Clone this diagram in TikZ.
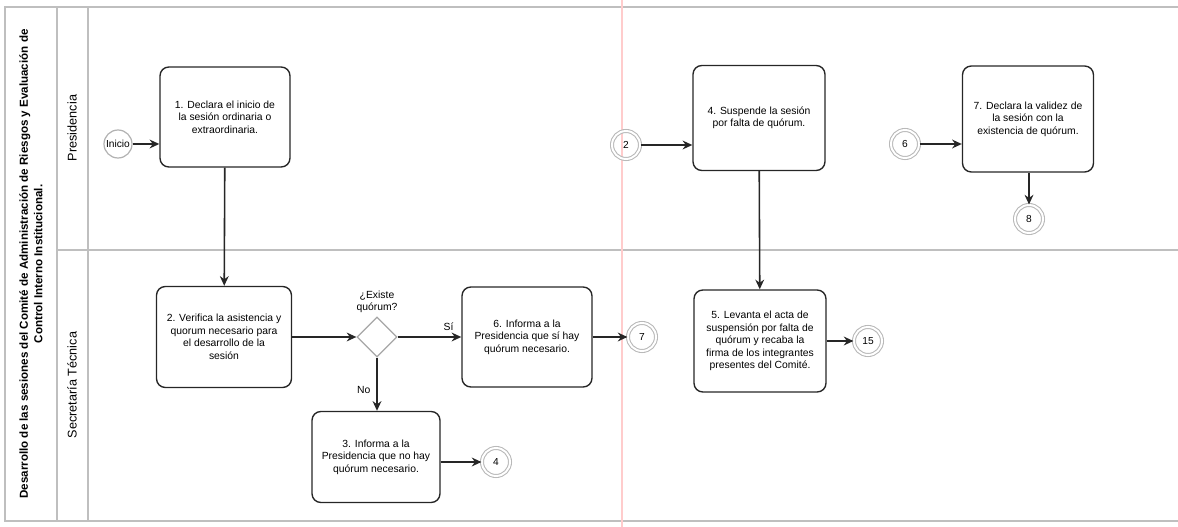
\documentclass[tikz,border=0pt]{standalone}
\usepackage{fontspec}
\setmainfont{Liberation Sans}
\usetikzlibrary{shapes.geometric,arrows.meta}
\begin{document}
\begin{tikzpicture}[x=0.02cm,y=-0.02cm,
  task/.style={draw=black!85, line width=0.8pt, rounded corners=5pt, align=center,
    font=\fontsize{5.9}{7.1}\selectfont, inner sep=2pt},
  link/.style={circle, draw=gray!55, double=white, double distance=1.1pt, line width=0.6pt,
    minimum size=0.56cm, inner sep=0pt, font=\fontsize{5.8}{6}\selectfont},
  startev/.style={circle, draw=gray!60, line width=0.7pt, minimum size=0.56cm, inner sep=0pt,
    font=\fontsize{5.8}{6}\selectfont},
  gate/.style={diamond, draw=gray!70, line width=0.7pt, minimum width=0.8cm, minimum height=0.8cm, inner sep=0pt},
  flow/.style={-{Stealth[length=5.5pt,width=5pt]}, line width=0.9pt, draw=black!85},
  lbl/.style={font=\fontsize{5.9}{6.8}\selectfont, align=center},
  lane/.style={draw=gray!50, line width=0.6pt}]
\useasboundingbox (0,0) rectangle (1178,527);
% pool and lanes
\draw[lane] (1178,7) -- (5,7) -- (5,521) -- (1178,521);
\draw[lane] (57,7) -- (57,521);
\draw[lane] (88,7) -- (88,521);
\draw[lane] (57,250) -- (1178,250);
\draw[red!20, line width=0.8pt] (622,0) -- (622,527);
\node[rotate=90, align=center, font=\bfseries\fontsize{6.6}{8.2}\selectfont] (title) at (31,264)
  {Desarrollo de las sesiones del Comité de Administración de Riesgos y Evaluación de\\ Control Interno Institucional.};
\node[rotate=90, font=\fontsize{7.2}{8}\selectfont] (lanep) at (72,128) {Presidencia};
\node[rotate=90, font=\fontsize{7.2}{8}\selectfont] (lanes) at (72,385) {Secretaría Técnica};
% nodes
\node[startev] (inicio) at (118,144) {Inicio};
\node[task, minimum width=2.6cm, minimum height=2.0cm] (t1) at (225,117)
  {1. Declara el inicio de\\ la sesión ordinaria o\\ extraordinaria.};
\node[task, minimum width=2.7cm, minimum height=2.02cm] (t2) at (224,337)
  {2. Verifica la asistencia y\\ quorum necesario para\\ el desarrollo de la\\ sesión};
\node[gate] (g) at (377,337) {};
\node[lbl] (glbl) at (377,302) {¿Existe\\ quórum?};
\node[task, minimum width=2.6cm, minimum height=2.0cm] (t6) at (527,337)
  {6. Informa a la\\ Presidencia que sí hay\\ quórum necesario.};
\node[link] (c7) at (642,337) {7};
\node[task, minimum width=2.56cm, minimum height=1.82cm] (t3) at (376,457)
  {3. Informa a la\\ Presidencia que no hay\\ quórum necesario.};
\node[link] (c4) at (496,462) {4};
\node[link] (c2) at (626,145) {2};
\node[task, minimum width=2.64cm, minimum height=2.1cm] (t4) at (759,118)
  {4. Suspende la sesión\\ por falta de quórum.};
\node[task, minimum width=2.64cm, minimum height=2.04cm] (t5) at (760,341)
  {5. Levanta el acta de\\ suspensión por falta de\\ quórum y recaba la\\ firma de los integrantes\\ presentes del Comité.};
\node[link] (c15) at (868,341) {15};
\node[link] (c6) at (905,144) {6};
\node[task, minimum width=2.62cm, minimum height=2.12cm] (t7) at (1028,119)
  {7. Declara la validez de\\ la sesión con la\\ existencia de quórum.};
\node[link] (c8) at (1029,219) {8};
% connectors
\draw[flow] (inicio) -- (t1.west |- inicio);
\draw[flow] (t1) -- (t2);
\draw[flow] (t2) -- (g);
\draw[flow] (g) -- node[lbl, above, pos=0.8] (si) {Sí} (t6);
\draw[flow] (g) -- node[lbl, left, pos=0.6] (no) {No} (t3.north -| g);
\draw[flow] (t6) -- (c7);
\draw[flow] (t3.east |- c4) -- (c4);
\draw[flow] (c2) -- (t4.west |- c2);
\draw[flow] (t4) -- (t5);
\draw[flow] (t5) -- (c15);
\draw[flow] (c6) -- (t7.west |- c6);
\draw[flow] (t7.south -| c8) -- (c8);
\end{tikzpicture}
\end{document}
